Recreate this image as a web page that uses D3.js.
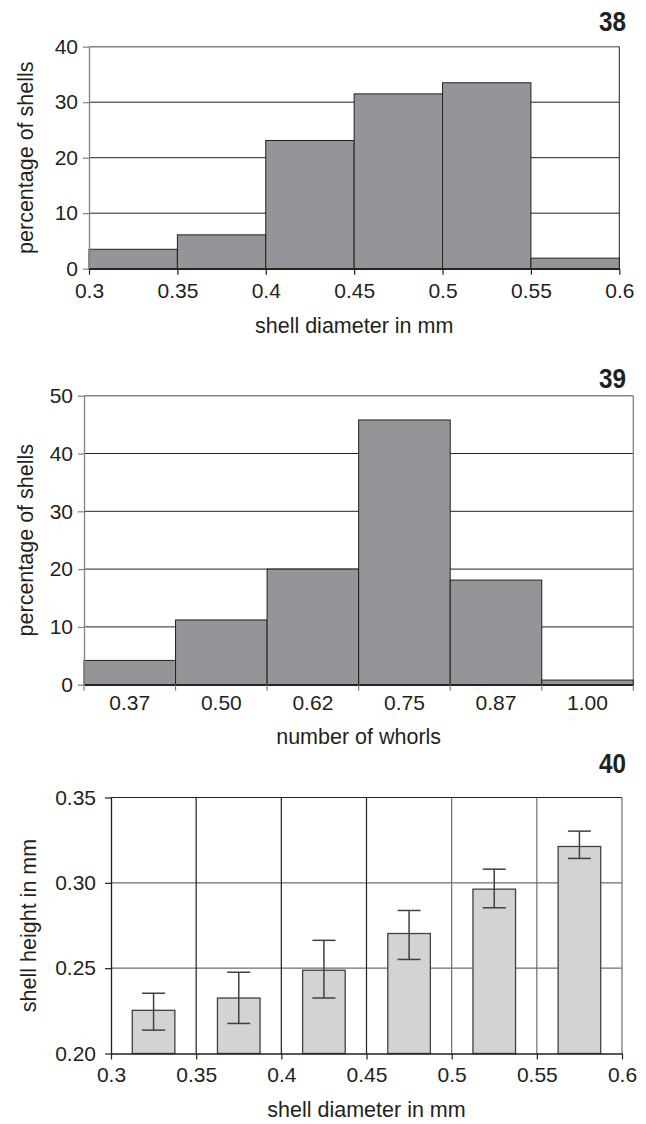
<!DOCTYPE html>
<html>
<head>
<meta charset="utf-8">
<script src="https://cdn.jsdelivr.net/npm/d3@7"></script>
<style>
  html, body { margin: 0; padding: 0; background: #fff; }
  svg { display: block; }
  text { font-family: "Liberation Sans", Arial, Helvetica, sans-serif; fill: #231f20; }
</style>
</head>
<body>
<svg id="fig" width="646" height="1124"></svg>
<script>
// Figure 38: distribution of shell diameter (percentage of shells per 0.05 mm class)
const diameterEdges = [0.3, 0.35, 0.4, 0.45, 0.5, 0.55, 0.6];
const diameterPct = [3.5, 6.1, 23.1, 31.5, 33.5, 1.9];
const diameterTickLabels = ["0.3", "0.35", "0.4", "0.45", "0.5", "0.55", "0.6"];
const pctTicks38 = [0, 10, 20, 30, 40];

// Figure 39: distribution of number of whorls
const whorlClasses = ["0.37", "0.50", "0.62", "0.75", "0.87", "1.00"];
const whorlPct = [4.2, 11.2, 20.0, 45.8, 18.1, 0.8];
const pctTicks39 = [0, 10, 20, 30, 40, 50];

// Figure 40: mean shell height per diameter class, with error bars
const heightClassLow = [0.3, 0.35, 0.4, 0.45, 0.5, 0.55];
const heightMean = [0.2253, 0.2325, 0.2488, 0.2703, 0.2963, 0.3213];
const heightErrLow = [0.2137, 0.2176, 0.2325, 0.2551, 0.2854, 0.3143];
const heightErrHigh = [0.2353, 0.2476, 0.2663, 0.2838, 0.3080, 0.3303];
const heightTicks = [0.20, 0.25, 0.30, 0.35];

const svg = d3.select("#fig");
const INK = "#231f20";
const GRID_GRAY = "#808285";
const DARK_FILL = "#939598";
const LIGHT_FILL = "#d1d3d4";
const TITLE_SIZE = 21.5;

function figNumber(label, xRight, yBase) {
  svg.append("text")
    .attr("transform", `translate(${xRight},${yBase}) scale(0.9,1)`)
    .attr("text-anchor", "end")
    .attr("font-size", 27)
    .attr("font-weight", "bold")
    .text(label);
}

function styleAxis(g, color) {
  g.selectAll(".domain").attr("stroke", color).attr("stroke-width", 1.3);
  g.selectAll(".tick line").attr("stroke", color).attr("stroke-width", 1.2);
  g.selectAll(".tick text").attr("font-size", 21).attr("fill", INK)
    .style("font-family", '"Liberation Sans", Arial, sans-serif');
}

// ---------- Figure 38 ----------
{
  const L = 89, R = 619.3, T = 46.7, B = 268.7;
  const x = d3.scaleLinear().domain([0.3, 0.6]).range([L, R]);
  const y = d3.scaleLinear().domain([0, 40]).range([B, T]);
  const g = svg.append("g");

  // horizontal gridlines
  g.selectAll("line.grid").data(pctTicks38.filter(v => v > 0 && v < 40)).join("line")
    .attr("x1", L).attr("x2", R)
    .attr("y1", d => y(d)).attr("y2", d => y(d))
    .attr("stroke", INK).attr("stroke-width", 1);
  // top border
  g.append("line").attr("x1", L).attr("x2", R).attr("y1", y(40)).attr("y2", y(40))
    .attr("stroke", GRID_GRAY).attr("stroke-width", 1.5);
  // right border
  g.append("line").attr("x1", R).attr("x2", R).attr("y1", y(40)).attr("y2", B)
    .attr("stroke", INK).attr("stroke-width", 1);

  // bars
  g.selectAll("rect.bar").data(diameterPct).join("rect")
    .attr("x", (d, i) => x(diameterEdges[i]))
    .attr("width", (d, i) => x(diameterEdges[i + 1]) - x(diameterEdges[i]))
    .attr("y", d => y(d))
    .attr("height", d => B - y(d))
    .attr("fill", DARK_FILL).attr("stroke", INK).attr("stroke-width", 1);

  const yAxis = g.append("g").attr("transform", `translate(${L},0)`)
    .call(d3.axisLeft(y).tickValues(pctTicks38).tickFormat(d3.format("d")).tickSize(6).tickSizeOuter(0).tickPadding(5));
  styleAxis(yAxis, GRID_GRAY);
  const xAxis = g.append("g").attr("transform", `translate(0,${B})`)
    .call(d3.axisBottom(x).tickValues(diameterEdges).tickFormat((d, i) => diameterTickLabels[i]).tickSize(6).tickSizeOuter(0).tickPadding(8));
  styleAxis(xAxis, INK);
  xAxis.select(".domain").attr("stroke-width", 1.8);

  g.append("text").attr("x", (L + R) / 2).attr("y", 333).attr("text-anchor", "middle")
    .attr("font-size", TITLE_SIZE).text("shell diameter in mm");
  g.append("text").attr("transform", `translate(33,${(T + B) / 2}) rotate(-90)`)
    .attr("text-anchor", "middle").attr("font-size", TITLE_SIZE).text("percentage of shells");
  figNumber("38", 626, 31);
}

// ---------- Figure 39 ----------
{
  const L = 84, R = 633.3, T = 395.7, B = 684.7;
  const x = d3.scaleBand().domain(whorlClasses).range([L, R]).padding(0);
  const y = d3.scaleLinear().domain([0, 50]).range([B, T]);
  const g = svg.append("g");

  g.selectAll("line.grid").data(pctTicks39.filter(v => v > 0 && v < 50)).join("line")
    .attr("x1", L).attr("x2", R)
    .attr("y1", d => y(d)).attr("y2", d => y(d))
    .attr("stroke", INK).attr("stroke-width", 1);
  g.append("line").attr("x1", L).attr("x2", R).attr("y1", y(50)).attr("y2", y(50))
    .attr("stroke", GRID_GRAY).attr("stroke-width", 1.5);
  g.append("line").attr("x1", R).attr("x2", R).attr("y1", y(50)).attr("y2", B)
    .attr("stroke", GRID_GRAY).attr("stroke-width", 1.3);

  g.selectAll("rect.bar").data(whorlPct).join("rect")
    .attr("x", (d, i) => x(whorlClasses[i]))
    .attr("width", x.bandwidth())
    .attr("y", d => y(d))
    .attr("height", d => B - y(d))
    .attr("fill", DARK_FILL).attr("stroke", INK).attr("stroke-width", 1);

  const yAxis = g.append("g").attr("transform", `translate(${L},0)`)
    .call(d3.axisLeft(y).tickValues(pctTicks39).tickFormat(d3.format("d")).tickSize(6).tickSizeOuter(0).tickPadding(5));
  styleAxis(yAxis, GRID_GRAY);
  const xAxis = g.append("g").attr("transform", `translate(0,${B})`)
    .call(d3.axisBottom(x).tickSize(0).tickPadding(10));
  styleAxis(xAxis, INK);
  xAxis.select(".domain").attr("stroke-width", 1.8);
  // class boundary ticks
  const bounds = whorlClasses.map(c => x(c)).concat([R]);
  g.selectAll("line.bound").data(bounds).join("line")
    .attr("x1", d => d).attr("x2", d => d)
    .attr("y1", B).attr("y2", B + 6)
    .attr("stroke", GRID_GRAY).attr("stroke-width", 1.2);

  g.append("text").attr("x", (L + R) / 2).attr("y", 744).attr("text-anchor", "middle")
    .attr("font-size", TITLE_SIZE).text("number of whorls");
  g.append("text").attr("transform", `translate(33,${(T + B) / 2}) rotate(-90)`)
    .attr("text-anchor", "middle").attr("font-size", TITLE_SIZE).text("percentage of shells");
  figNumber("39", 626, 388);
}

// ---------- Figure 40 ----------
{
  const L = 111, R = 622, T = 797.5, B = 1053.5;
  const x = d3.scaleLinear().domain([0.3, 0.6]).range([L, R]);
  const y = d3.scaleLinear().domain([0.20, 0.35]).range([B, T]);
  const g = svg.append("g");
  const step = 0.05;

  // horizontal gridlines
  g.selectAll("line.hgrid").data([0.25, 0.30]).join("line")
    .attr("x1", L).attr("x2", R)
    .attr("y1", d => y(d)).attr("y2", d => y(d))
    .attr("stroke", "#6d6e71").attr("stroke-width", 1.3);
  g.append("line").attr("x1", L).attr("x2", R).attr("y1", y(0.35)).attr("y2", y(0.35))
    .attr("stroke", INK).attr("stroke-width", 1.2);
  // vertical gridlines
  g.selectAll("line.vgrid").data(diameterEdges.slice(1)).join("line")
    .attr("x1", d => x(d)).attr("x2", d => x(d))
    .attr("y1", T).attr("y2", B)
    .attr("stroke", d => d >= 0.5 ? "#6d6e71" : INK).attr("stroke-width", 1.2);

  // bars, half the class width, centred in each class
  g.selectAll("rect.bar").data(heightMean).join("rect")
    .attr("x", (d, i) => x(heightClassLow[i] + step * 0.25))
    .attr("width", (d, i) => x(heightClassLow[i] + step * 0.75) - x(heightClassLow[i] + step * 0.25))
    .attr("y", d => y(d))
    .attr("height", d => B - y(d))
    .attr("fill", LIGHT_FILL).attr("stroke", "#414042").attr("stroke-width", 1.3);

  // error bars
  const cap = 11.5;
  const eb = g.selectAll("g.err").data(heightMean).join("g").attr("class", "err");
  eb.append("line")
    .attr("x1", (d, i) => x(heightClassLow[i] + step / 2)).attr("x2", (d, i) => x(heightClassLow[i] + step / 2))
    .attr("y1", (d, i) => y(heightErrLow[i])).attr("y2", (d, i) => y(heightErrHigh[i]))
    .attr("stroke", "#414042").attr("stroke-width", 1.5);
  eb.append("line")
    .attr("x1", (d, i) => x(heightClassLow[i] + step / 2) - cap).attr("x2", (d, i) => x(heightClassLow[i] + step / 2) + cap)
    .attr("y1", (d, i) => y(heightErrHigh[i])).attr("y2", (d, i) => y(heightErrHigh[i]))
    .attr("stroke", "#414042").attr("stroke-width", 1.5);
  eb.append("line")
    .attr("x1", (d, i) => x(heightClassLow[i] + step / 2) - cap).attr("x2", (d, i) => x(heightClassLow[i] + step / 2) + cap)
    .attr("y1", (d, i) => y(heightErrLow[i])).attr("y2", (d, i) => y(heightErrLow[i]))
    .attr("stroke", "#414042").attr("stroke-width", 1.5);

  const yAxis = g.append("g").attr("transform", `translate(${L},0)`)
    .call(d3.axisLeft(y).tickValues(heightTicks).tickFormat(d3.format(".2f")).tickSize(6).tickSizeOuter(0).tickPadding(9));
  styleAxis(yAxis, INK);
  const xAxis = g.append("g").attr("transform", `translate(0,${B})`)
    .call(d3.axisBottom(x).tickValues(diameterEdges).tickFormat((d, i) => diameterTickLabels[i]).tickSize(6).tickSizeOuter(0).tickPadding(8));
  styleAxis(xAxis, INK);

  g.append("text").attr("x", (L + R) / 2).attr("y", 1117).attr("text-anchor", "middle")
    .attr("font-size", TITLE_SIZE).text("shell diameter in mm");
  g.append("text").attr("transform", `translate(36,${(T + B) / 2}) rotate(-90)`)
    .attr("text-anchor", "middle").attr("font-size", TITLE_SIZE).text("shell height in mm");
  figNumber("40", 626, 773);
}
</script>
</body>
</html>
